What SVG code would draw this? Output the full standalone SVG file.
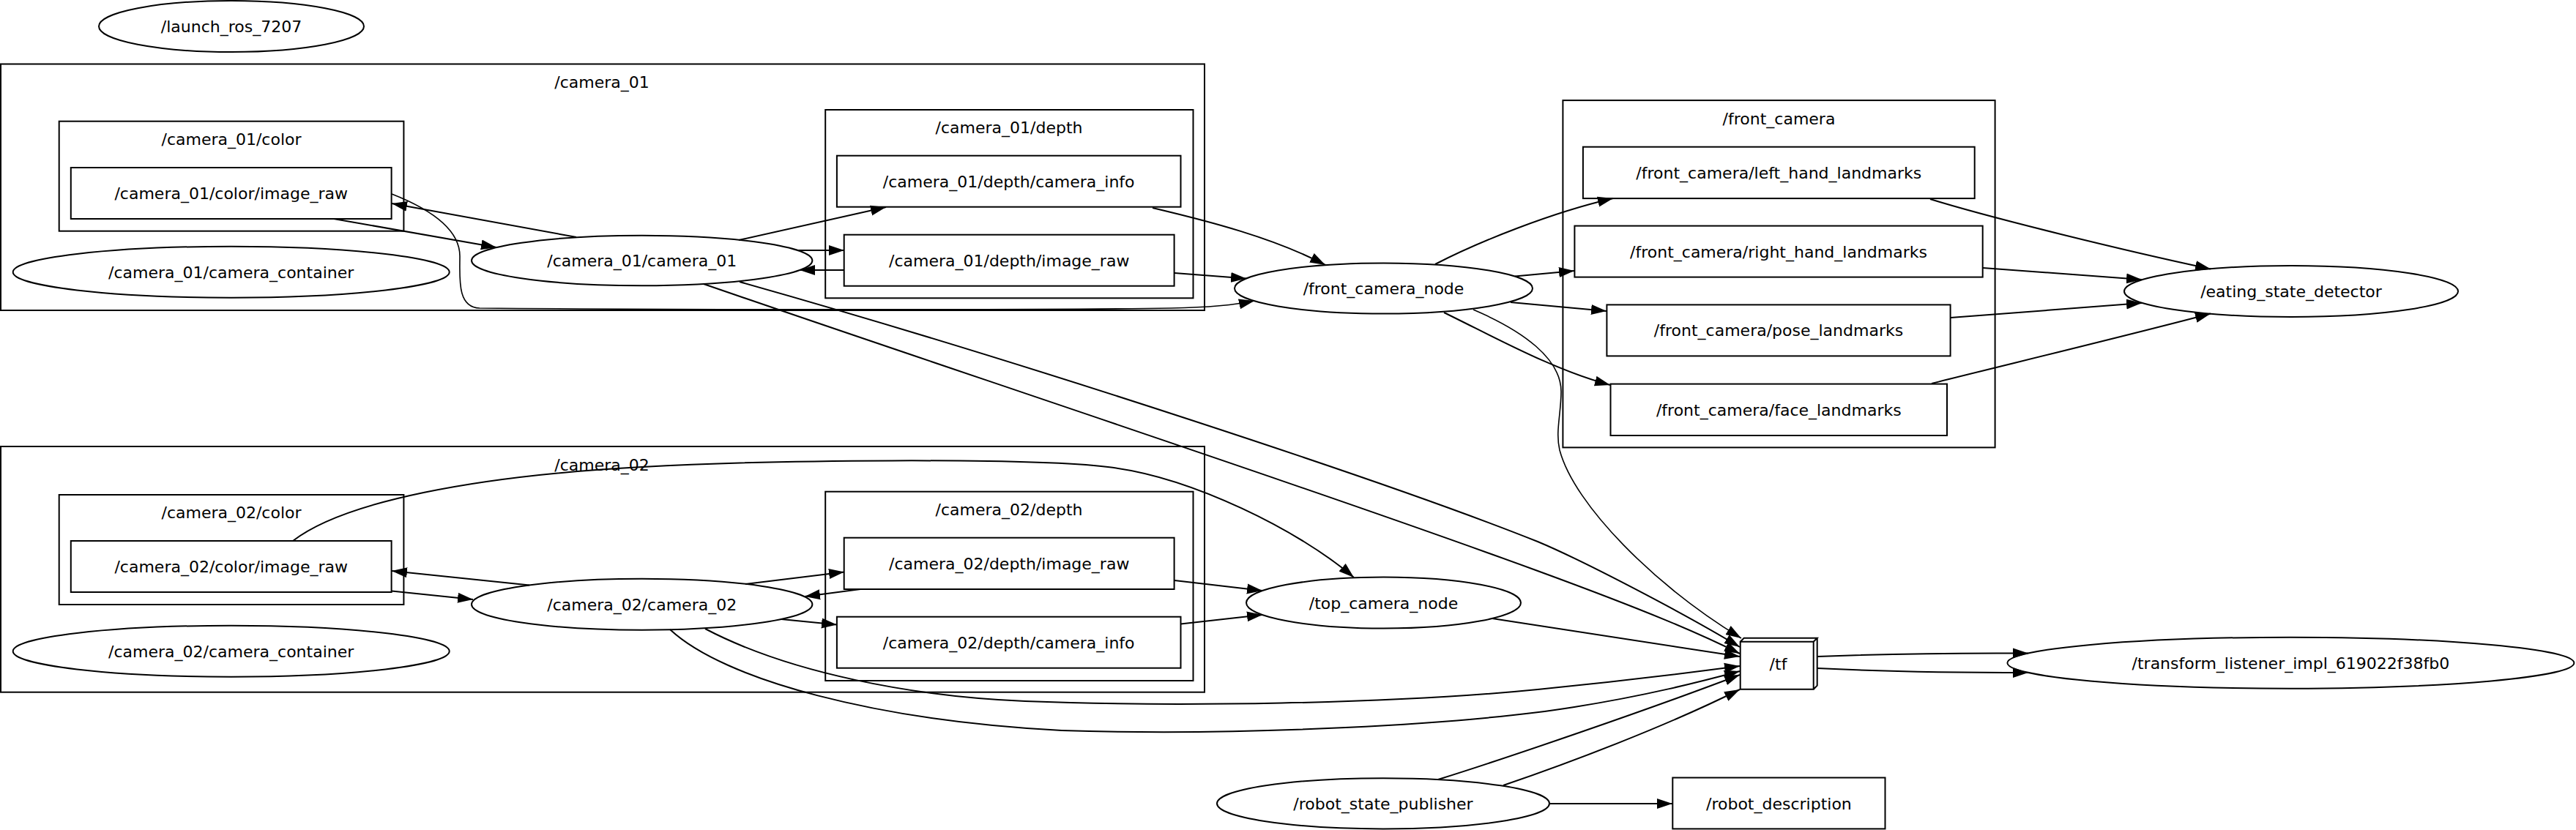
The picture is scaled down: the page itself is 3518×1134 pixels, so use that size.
<svg xmlns="http://www.w3.org/2000/svg" width="3518" height="1134" viewBox="0 0 3518 1134">
<style>
.c{fill:none;stroke:#000;stroke-width:2}
.n{fill:none;stroke:#000;stroke-width:2}
.e path{fill:none;stroke:#000;stroke-width:2;marker-end:url(#ah)}
.e path.t{stroke-width:1.6}
text{font-family:"DejaVu Sans","Liberation Sans",sans-serif;font-size:22px;text-anchor:middle;fill:#000}
</style>
<defs>
<marker id="ah" viewBox="0 0 21 15" refX="21" refY="7.5" markerWidth="21" markerHeight="15" markerUnits="userSpaceOnUse" orient="auto"><path d="M0,0.5 L21,7.5 L0,14.5 z" fill="#000"/></marker>
</defs>
<rect x="0" y="0" width="3518" height="1134" fill="#fff"/>

<g id="clusters">
<g id="cluster_camera_01"><rect class="c" x="1" y="87.5" width="1644" height="336.5"/><text x="822" y="120">/camera_01</text></g>
<g id="cluster_camera_01_color"><rect class="c" x="80.7" y="165.7" width="470.7" height="150"/><text x="316" y="198">/camera_01/color</text></g>
<g id="cluster_camera_01_depth"><rect class="c" x="1127.2" y="150" width="502.3" height="257.3"/><text x="1378" y="182">/camera_01/depth</text></g>
<g id="cluster_front_camera"><rect class="c" x="2134.4" y="137.1" width="590.2" height="474.3"/><text x="2429.5" y="170">/front_camera</text></g>
<g id="cluster_camera_02"><rect class="c" x="1" y="610" width="1644" height="335.7"/><text x="822" y="643">/camera_02</text></g>
<g id="cluster_camera_02_color"><rect class="c" x="80.7" y="676" width="470.7" height="150"/><text x="316" y="708">/camera_02/color</text></g>
<g id="cluster_camera_02_depth"><rect class="c" x="1127.2" y="671.7" width="502.3" height="258.3"/><text x="1378" y="704">/camera_02/depth</text></g>
</g>

<g id="launch_ros_7207"><ellipse class="n" cx="316" cy="36" rx="181" ry="35"/><text x="316" y="44">/launch_ros_7207</text></g>
<g id="camera_01_camera_container"><ellipse class="n" cx="315.7" cy="371.7" rx="298" ry="35"/><text x="315.7" y="379.7">/camera_01/camera_container</text></g>
<g id="camera_01_camera_01"><ellipse class="n" cx="876.7" cy="356" rx="232.7" ry="34.3"/><text x="876.7" y="364">/camera_01/camera_01</text></g>
<g id="camera_01_color_image_raw"><rect class="n" x="96.8" y="229" width="437.8" height="70"/><text x="315.7" y="272">/camera_01/color/image_raw</text></g>
<g id="camera_01_depth_camera_info"><rect class="n" x="1142.9" y="212.7" width="469.6" height="70"/><text x="1377.7" y="255.7">/camera_01/depth/camera_info</text></g>
<g id="camera_01_depth_image_raw"><rect class="n" x="1152.7" y="320.7" width="450.9" height="70"/><text x="1378.2" y="363.7">/camera_01/depth/image_raw</text></g>
<g id="front_camera_node"><ellipse class="n" cx="1889.5" cy="394" rx="203.5" ry="34.5"/><text x="1889.5" y="402">/front_camera_node</text></g>
<g id="front_camera_left_hand_landmarks"><rect class="n" x="2161.9" y="200.7" width="534.8" height="70.4"/><text x="2429.3" y="244">/front_camera/left_hand_landmarks</text></g>
<g id="front_camera_right_hand_landmarks"><rect class="n" x="2150.4" y="308.6" width="557.3" height="70"/><text x="2429" y="351.6">/front_camera/right_hand_landmarks</text></g>
<g id="front_camera_pose_landmarks"><rect class="n" x="2194.4" y="416.4" width="469.2" height="70"/><text x="2429" y="459.4">/front_camera/pose_landmarks</text></g>
<g id="front_camera_face_landmarks"><rect class="n" x="2199.5" y="524.6" width="459.5" height="70.4"/><text x="2429.3" y="567.8">/front_camera/face_landmarks</text></g>
<g id="eating_state_detector"><ellipse class="n" cx="3129" cy="398" rx="228" ry="35"/><text x="3129" y="406">/eating_state_detector</text></g>
<g id="camera_02_color_image_raw"><rect class="n" x="96.8" y="739" width="437.8" height="70"/><text x="315.7" y="782">/camera_02/color/image_raw</text></g>
<g id="camera_02_camera_container"><ellipse class="n" cx="315.7" cy="889.7" rx="298" ry="35"/><text x="315.7" y="897.7">/camera_02/camera_container</text></g>
<g id="camera_02_camera_02"><ellipse class="n" cx="876.7" cy="825.7" rx="232.7" ry="35"/><text x="876.7" y="833.7">/camera_02/camera_02</text></g>
<g id="camera_02_depth_image_raw"><rect class="n" x="1152.7" y="734.7" width="450.9" height="70.3"/><text x="1378.2" y="778">/camera_02/depth/image_raw</text></g>
<g id="camera_02_depth_camera_info"><rect class="n" x="1142.9" y="842.7" width="469.6" height="70"/><text x="1377.7" y="885.7">/camera_02/depth/camera_info</text></g>
<g id="top_camera_node"><ellipse class="n" cx="1889.5" cy="823.6" rx="187.5" ry="35"/><text x="1889.5" y="831.6">/top_camera_node</text></g>
<g id="tf"><path class="n" d="M2376.7,876.7 L2476.7,876.7 L2476.7,941.7 L2376.7,941.7 Z M2376.7,876.7 L2381.7,871.7 L2481.7,871.7 L2476.7,876.7 M2481.7,871.7 L2481.7,936.7 L2476.7,941.7"/><text x="2428.5" y="914.7">/tf</text></g>
<g id="transform_listener_impl_619022f38fb0"><ellipse class="n" cx="3128.4" cy="905.7" rx="387" ry="35"/><text x="3128.4" y="913.7">/transform_listener_impl_619022f38fb0</text></g>
<g id="robot_state_publisher"><ellipse class="n" cx="1889" cy="1097.8" rx="227" ry="34.6"/><text x="1889" y="1105.8">/robot_state_publisher</text></g>
<g id="robot_description"><rect class="n" x="2284.3" y="1062.5" width="290.2" height="69.9"/><text x="2429.4" y="1105.5">/robot_description</text></g>

<g id="edges" class="e">
<path d="M787,324 L535,278"/>
<path d="M456,299 L678,338"/>
<path class="t" d="M535,265 C596,289 628,318 628,350 C628,380 624,420 655,421 C900,423 1400,424 1600,421 C1650,420 1690,416 1713,411"/>
<path d="M1009,328 L1210,283"/>
<path d="M1090,342 L1153,342"/>
<path d="M1153,369 L1092,369"/>
<path d="M1574,284 C1650,302 1740,325 1810,362"/>
<path d="M1604,373 L1702,380.5"/>
<path d="M1010,385 C1400,495 1900,660 2100,740 C2160,765 2300,838 2376,884"/>
<path d="M961,388 C1300,505 1800,670 2100,780 C2250,835 2320,865 2376,893"/>
<path d="M1960,361 C2020,330 2120,290 2203,271"/>
<path d="M2069,377.5 L2150,370"/>
<path d="M2063,413 L2194,425"/>
<path d="M1972,427 C2040,460 2120,505 2199,526"/>
<path class="t" d="M2012,423 C2080,452 2132,490 2132,535 C2132,565 2124,590 2130,615 C2150,690 2260,800 2378,872"/>
<path d="M2636,272 C2720,298 2900,342 3019,367.5"/>
<path d="M2708,366 L2925,382"/>
<path d="M2664,434 L2925,414"/>
<path d="M2638,524 C2700,508 2900,460 3019,428.5"/>
<path d="M723,799.5 L535,780"/>
<path d="M535,807.5 L646,819"/>
<path d="M400,739 C470,685 650,650 877,638 C1050,628 1400,625 1513,638 C1626,651 1775,725 1849,789"/>
<path d="M1018,798 L1153,781.5"/>
<path d="M1175,805 L1099,815"/>
<path d="M1067,846 L1143,853.5"/>
<path d="M1604,793 L1724,807"/>
<path d="M1612.5,852.5 L1724,840"/>
<path d="M963,859 C1079,920 1250,952 1400,958 C1600,966 1900,962 2100,942 C2200,932 2300,920 2376,910"/>
<path d="M915,860 C990,930 1200,985 1450,998 C1700,1006 2000,990 2150,966 C2250,950 2320,932 2376,917"/>
<path d="M2038,845 L2376,897"/>
<path d="M1964,1065 C2060,1035 2250,970 2376,922"/>
<path d="M2053,1073 C2150,1040 2280,990 2376,942"/>
<path d="M2117,1098 L2284,1098"/>
<path d="M2482,897 C2580,893 2680,892 2770,892.5"/>
<path d="M2482,913 C2580,918 2680,919 2770,919"/>
</g>
</svg>
